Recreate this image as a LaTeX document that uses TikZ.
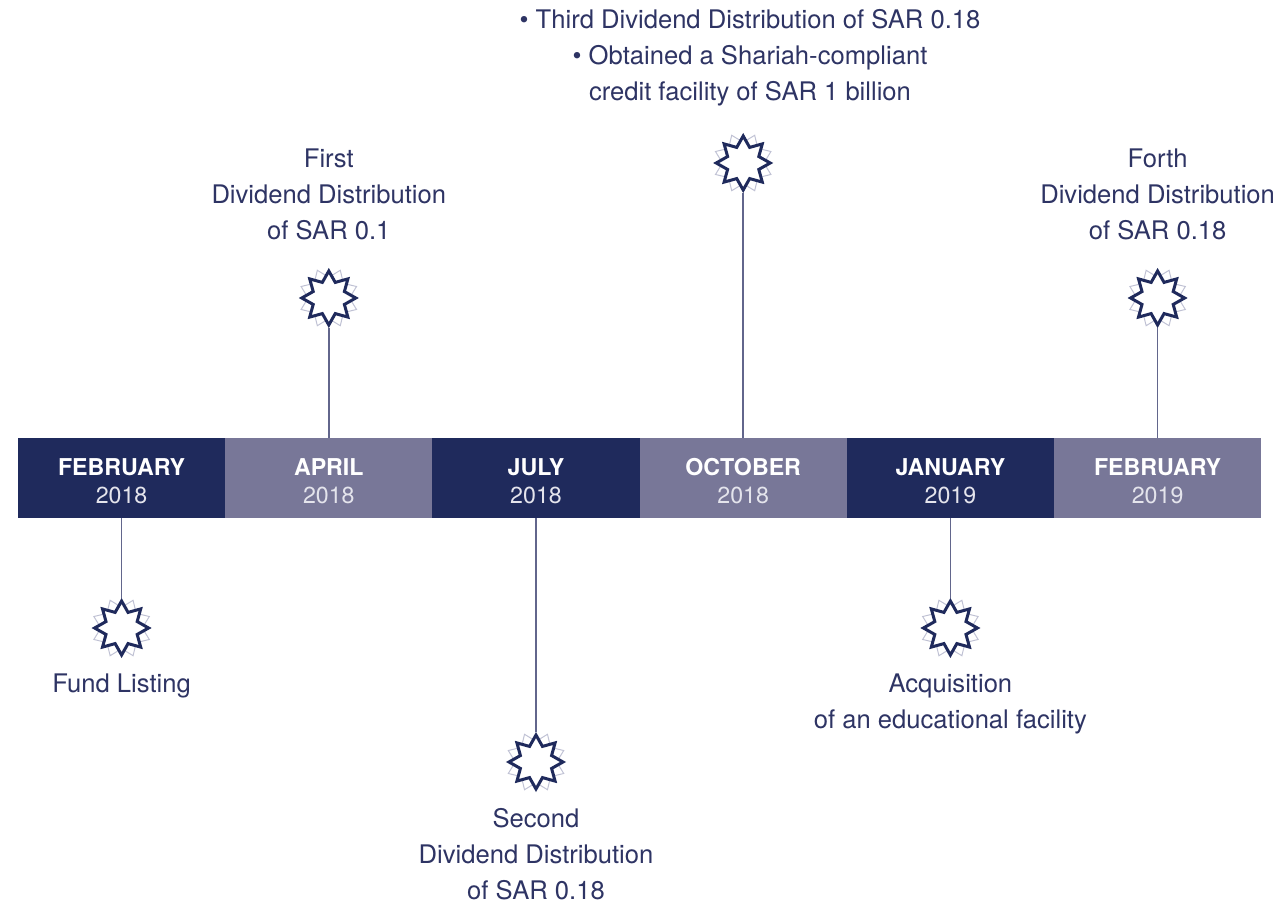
\documentclass[tikz,border=0pt]{standalone}
\usepackage{fontspec}
\setmainfont{TeX Gyre Heros}
\usetikzlibrary{shapes.geometric}

\definecolor{navy}{RGB}{31,42,92}
\definecolor{slate}{RGB}{120,119,152}
\definecolor{inkblue}{RGB}{46,52,100}
\definecolor{stemgrey}{RGB}{98,102,140}
\definecolor{yearwhite}{RGB}{228,228,236}
\definecolor{starlight}{RGB}{192,194,212}

\tikzset{
    month/.style={rectangle, minimum width=103.6pt, minimum height=40pt, inner sep=0pt,
        align=center, text=white, font=\fontsize{11.6}{14}\selectfont},
    darkmonth/.style={month, fill=navy},
    lightmonth/.style={month, fill=slate},
    starfront/.style={star, star points=8, star point ratio=1.6, minimum size=27pt,
        inner sep=0pt, draw=navy, line width=1.5pt, fill=white},
    starback/.style={star, star points=8, star point ratio=1.45, minimum size=30pt,
        inner sep=0pt, draw=starlight, line width=0.5pt, rotate=22.5},
    stem/.style={draw=stemgrey, line width=0.8pt},
    event/.style={align=center, text=inkblue, font=\fontsize{12.8}{18}\selectfont}
}

\begin{document}
\begin{tikzpicture}[x=0.5pt, y=-0.5pt]
    \useasboundingbox (0,0) rectangle (1281,909);

    % months along the bar
    \node[darkmonth]  (m1) at (121.6,478) {};
    \node[lightmonth] (m2) at (328.8,478) {};
    \node[darkmonth]  (m3) at (536.0,478) {};
    \node[lightmonth] (m4) at (743.2,478) {};
    \node[darkmonth]  (m5) at (950.4,478) {};
    \node[lightmonth] (m6) at (1157.6,478) {};
    \node[month] (d1) at (121.6,481)  {\textbf{FEBRUARY}\\{\color{yearwhite}2018}};
    \node[month] (d2) at (328.8,481)  {\textbf{APRIL}\\{\color{yearwhite}2018}};
    \node[month] (d3) at (536.0,481)  {\textbf{JULY}\\{\color{yearwhite}2018}};
    \node[month] (d4) at (743.2,481)  {\textbf{OCTOBER}\\{\color{yearwhite}2018}};
    \node[month] (d5) at (950.4,481)  {\textbf{JANUARY}\\{\color{yearwhite}2019}};
    \node[month] (d6) at (1157.6,481) {\textbf{FEBRUARY}\\{\color{yearwhite}2019}};

    % stars, the pale one sits behind
    \node[starback]  (s1b) at (121.6,628) {};
    \node[starfront] (s1)  at (121.6,628) {};
    \node[starback]  (s2b) at (328.8,298) {};
    \node[starfront] (s2)  at (328.8,298) {};
    \node[starback]  (s3b) at (536.0,762) {};
    \node[starfront] (s3)  at (536.0,762) {};
    \node[starback]  (s4b) at (743.2,163) {};
    \node[starfront] (s4)  at (743.2,163) {};
    \node[starback]  (s5b) at (950.4,628) {};
    \node[starfront] (s5)  at (950.4,628) {};
    \node[starback]  (s6b) at (1157.6,298) {};
    \node[starfront] (s6)  at (1157.6,298) {};

    \draw[stem] (m1.south) -- (s1.north);
    \draw[stem] (m2.north) -- (s2.south);
    \draw[stem] (m3.south) -- (s3.north);
    \draw[stem] (m4.north) -- (s4.south);
    \draw[stem] (m5.south) -- (s5.north);
    \draw[stem] (m6.north) -- (s6.south);

    % event texts
    \node[event] (e1) at (121.6,686) {Fund Listing};
    \node[event] (e2) at (328.8,194) {First\\Dividend Distribution\\of SAR 0.1};
    \node[event] (e3) at (536.0,854) {Second\\Dividend Distribution\\of SAR 0.18};
    \node[event] (e4) at (750,58) {\textbullet\ Third Dividend Distribution of SAR 0.18\\
        \textbullet\ Obtained a Shariah-compliant\\credit facility of SAR 1 billion};
    \node[event] (e5) at (950.4,703.5) {Acquisition\\of an educational facility};
    \node[event] (e6) at (1157.6,194) {Forth\\Dividend Distribution\\of SAR 0.18};
\end{tikzpicture}
\end{document}
